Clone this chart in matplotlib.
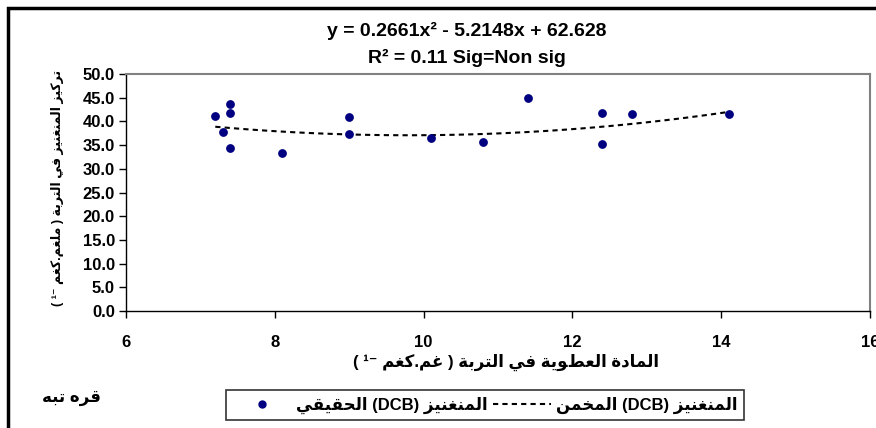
import re
import numpy as np
import matplotlib
matplotlib.use("Agg")
import matplotlib.pyplot as plt
from matplotlib.patches import Rectangle
from matplotlib.lines import Line2D

# organic matter (g/kg) vs manganese DCB (mg/kg)
om = [7.2, 7.3, 7.4, 7.4, 7.4, 8.1, 9.0, 9.0, 10.1, 10.8, 11.4, 12.4, 12.4, 12.8, 14.1]
mn = [41.2, 37.8, 43.6, 41.8, 34.3, 33.3, 40.9, 37.3, 36.4, 35.6, 45.0, 41.8, 35.3, 41.5, 41.5]
coef = [0.2661, -5.2148, 62.628]

xticks = [6, 8, 10, 12, 14, 16]
yticks = [0, 5, 10, 15, 20, 25, 30, 35, 40, 45, 50]

title1 = "y = 0.2661x² - 5.2148x + 62.628"
title2 = "R² = 0.11 Sig=Non sig"
xlab = "المادة العضوية في التربة ( غم.كغم ⁻¹ )"
ylab = "تركيز المنغنيز في التربة ( ملغم.كغم ⁻¹ )"
lab_real = "المنغنيز (DCB) الحقيقي"
lab_fit = "المنغنيز (DCB) المخمن"
site = "قره تبه"

# matplotlib has no arabic shaping / bidi, do a small one by hand
FORMS = {
    'ا': (0xFE8D, 2), 'ب': (0xFE8F, 4), 'ة': (0xFE93, 2), 'ت': (0xFE95, 4),
    'ح': (0xFEA1, 4), 'خ': (0xFEA5, 4), 'د': (0xFEA9, 2), 'ر': (0xFEAD, 2),
    'ز': (0xFEAF, 2), 'ض': (0xFEBF, 4), 'ع': (0xFEC9, 4), 'غ': (0xFECD, 4),
    'ف': (0xFED1, 4), 'ق': (0xFED5, 4), 'ك': (0xFED9, 4), 'ل': (0xFEDD, 4),
    'م': (0xFEE1, 4), 'ن': (0xFEE5, 4), 'ه': (0xFEE9, 4), 'و': (0xFEED, 2),
    'ي': (0xFEF1, 4),
}


def shape(s):
    out = []
    for i, c in enumerate(s):
        if c not in FORMS:
            out.append(c)
            continue
        base, n = FORMS[c]
        prev = s[i - 1] if i > 0 else ''
        nxt = s[i + 1] if i + 1 < len(s) else ''
        jp = prev in FORMS and FORMS[prev][1] == 4
        jn = n == 4 and nxt in FORMS
        k = 3 if (jp and jn) else 2 if jn else 1 if jp else 0
        out.append(chr(base + k))
    return ''.join(out)


def ar(s):
    s = shape(s)
    ltr = r'[A-Za-z0-9¹]'
    runs = re.findall(ltr + r'+|[^A-Za-z0-9¹]+', s)
    mirror = str.maketrans('()', ')(')
    out = []
    for r in reversed(runs):
        if re.match(ltr, r):
            out.append(r)
        else:
            out.append(r[::-1].translate(mirror))
    return ''.join(out)


plt.rcParams['font.family'] = ['Liberation Sans', 'DejaVu Sans']
plt.rcParams['font.weight'] = 'bold'

fig = plt.figure(figsize=(8.76, 4.28), dpi=100)
ax = fig.add_axes([126 / 876, 1 - 311 / 428, 744 / 876, 237 / 428])

xs = np.linspace(min(om), max(om), 100)
ax.plot(xs, np.polyval(coef, xs), color='black', lw=1.5, ls=(0, (2.5, 2)))
ax.scatter(om, mn, s=28, color='#000080', zorder=3)

ax.set_xlim(6, 16)
ax.set_ylim(0, 50)
ax.set_xticks(xticks)
ax.set_yticks(yticks)
ax.set_yticklabels([f"{v:.1f}" for v in yticks])
ax.tick_params(labelsize=12, length=5, width=1, direction='out')
ax.tick_params(axis='x', pad=12)
ax.tick_params(axis='y', pad=3)
for s in ['top', 'right']:
    ax.spines[s].set_color('#808080')
    ax.spines[s].set_linewidth(1.5)
for s in ['left', 'bottom']:
    ax.spines[s].set_color('black')
    ax.spines[s].set_linewidth(1)

fig.text(467 / 876, 1 - 31 / 428, title1, ha='center', va='center', fontsize=14)
fig.text(467 / 876, 1 - 58 / 428, title2, ha='center', va='center', fontsize=14)
fig.text(506 / 876, 1 - 362 / 428, ar(xlab), ha='center', va='center', fontsize=12)
fig.text(58 / 876, 1 - 188 / 428, ar(ylab), ha='center', va='center',
         rotation=90, fontsize=9)
fig.text(72 / 876, 1 - 398 / 428, ar(site), ha='center', va='center', fontsize=12)

# outer chart frame (cut at right and bottom)
fig.patches.append(Rectangle((8 / 876, -0.2), 1.2, 1.2 - 8 / 428,
                             transform=fig.transFigure, fill=False,
                             edgecolor='black', lw=2.5, clip_on=False))

h_real = Line2D([], [], ls='none', marker='o', ms=5, color='#000080')
h_fit = Line2D([], [], color='black', lw=1.5, ls=(0, (2.5, 2)))
leg = fig.legend([h_real, h_fit], [ar(lab_real), ar(lab_fit)], ncol=2,
                 loc='center', bbox_to_anchor=(485 / 876, 1 - 405 / 428),
                 fontsize=12, frameon=True, fancybox=False, handlelength=3.5,
                 columnspacing=0.3, handletextpad=0.3, borderpad=0.4)
leg.get_frame().set_edgecolor('black')
leg.get_frame().set_linewidth(1.2)

fig.savefig('out.png', dpi=100)
